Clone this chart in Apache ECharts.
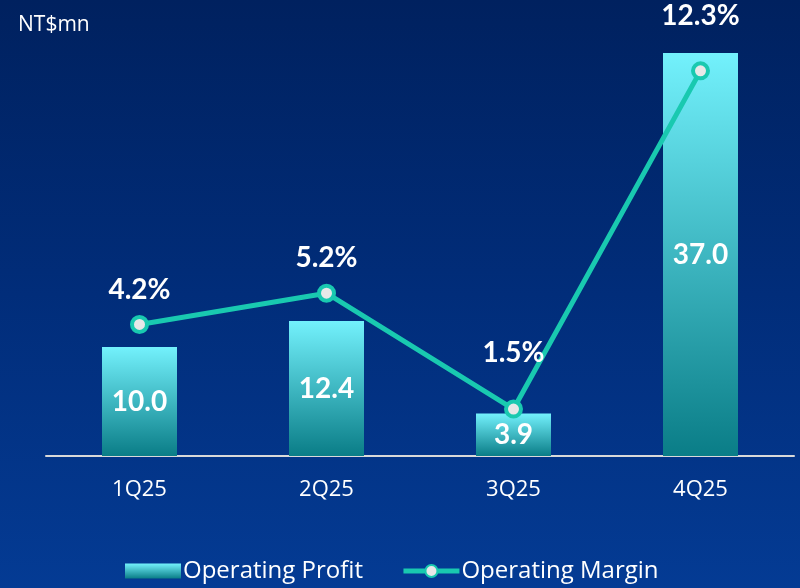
<!DOCTYPE html>
<html>
<head>
<meta charset="utf-8">
<style>
  html, body { margin: 0; padding: 0; }
  #chart { width: 800px; height: 588px; }
</style>
<script src="https://cdn.jsdelivr.net/npm/echarts@6/dist/echarts.min.js"></script>
</head>
<body>
<div id="chart"></div>
<script>
// quarters on the x axis
const quarters = ['1Q25', '2Q25', '3Q25', '4Q25'];
// operating profit, NT$mn
const profit = [10.0, 12.4, 3.9, 37.0];
// operating margin, %
const margin = [4.2, 5.2, 1.5, 12.3];
// how far each margin label sits above its point
const marginLabelGap = [11, 12, 33, 31];

const chart = echarts.init(document.getElementById('chart'));

chart.setOption({
    backgroundColor: {
        type: 'linear', x: 0, y: 0, x2: 0, y2: 1,
        colorStops: [
            { offset: 0, color: '#00215f' },
            { offset: 0.5, color: '#012d7a' },
            { offset: 1, color: '#043b94' }
        ]
    },
    animation: false,
    textStyle: { fontFamily: 'Open Sans' },
    graphic: [{
        type: 'text', left: 18, top: 15,
        style: { text: 'NT$mn', fill: '#ffffff', fontSize: 21, fontFamily: 'Open Sans' }
    }],
    legend: {
        bottom: 0,
        left: 120,
        itemGap: 38,
        itemWidth: 56,
        itemHeight: 15,
        textStyle: { color: '#ffffff', fontSize: 24, fontFamily: 'Open Sans', padding: [0, 0, 0, -3] },
        data: [
            { name: 'Operating Profit', icon: 'rect' },
            { name: 'Operating Margin', lineStyle: { width: 5 } }
        ]
    },
    grid: { left: 46, right: 6, top: 53, bottom: 132 },
    xAxis: {
        type: 'category',
        data: quarters,
        axisTick: { show: false },
        axisLine: { lineStyle: { color: '#d9d9d9', width: 2 } },
        axisLabel: { color: '#ffffff', fontSize: 22, margin: 23, fontFamily: 'Open Sans' }
    },
    yAxis: [
        { type: 'value', min: 0, max: 37, show: false, splitLine: { show: false } },
        { type: 'value', min: 0, max: 12.87, show: false, splitLine: { show: false } }
    ],
    series: [
        {
            name: 'Operating Profit',
            type: 'bar',
            data: profit,
            barWidth: 75,
            itemStyle: {
                color: {
                    type: 'linear', x: 0, y: 0, x2: 0, y2: 1,
                    colorStops: [
                        { offset: 0, color: '#73f1fc' },
                        { offset: 1, color: '#0a7d87' }
                    ]
                }
            },
            label: {
                show: true,
                position: 'inside',
                color: '#ffffff',
                fontSize: 28,
                fontWeight: 'bold',
                fontFamily: 'Lato',
                formatter: p => p.value.toFixed(1)
            }
        },
        {
            name: 'Operating Margin',
            type: 'line',
            yAxisIndex: 1,
            data: margin.map((v, i) => ({
                value: v,
                label: { distance: marginLabelGap[i] }
            })),
            symbol: 'circle',
            symbolSize: 15,
            lineStyle: { color: '#19c9b0', width: 5 },
            itemStyle: { color: '#e8e8e8', borderColor: '#19c9b0', borderWidth: 4 },
            label: {
                show: true,
                position: 'top',
                color: '#ffffff',
                fontSize: 28,
                fontWeight: 'bold',
                fontFamily: 'Lato',
                formatter: p => p.value.toFixed(1) + '%'
            },
            z: 5
        }
    ]
});
</script>
</body>
</html>
